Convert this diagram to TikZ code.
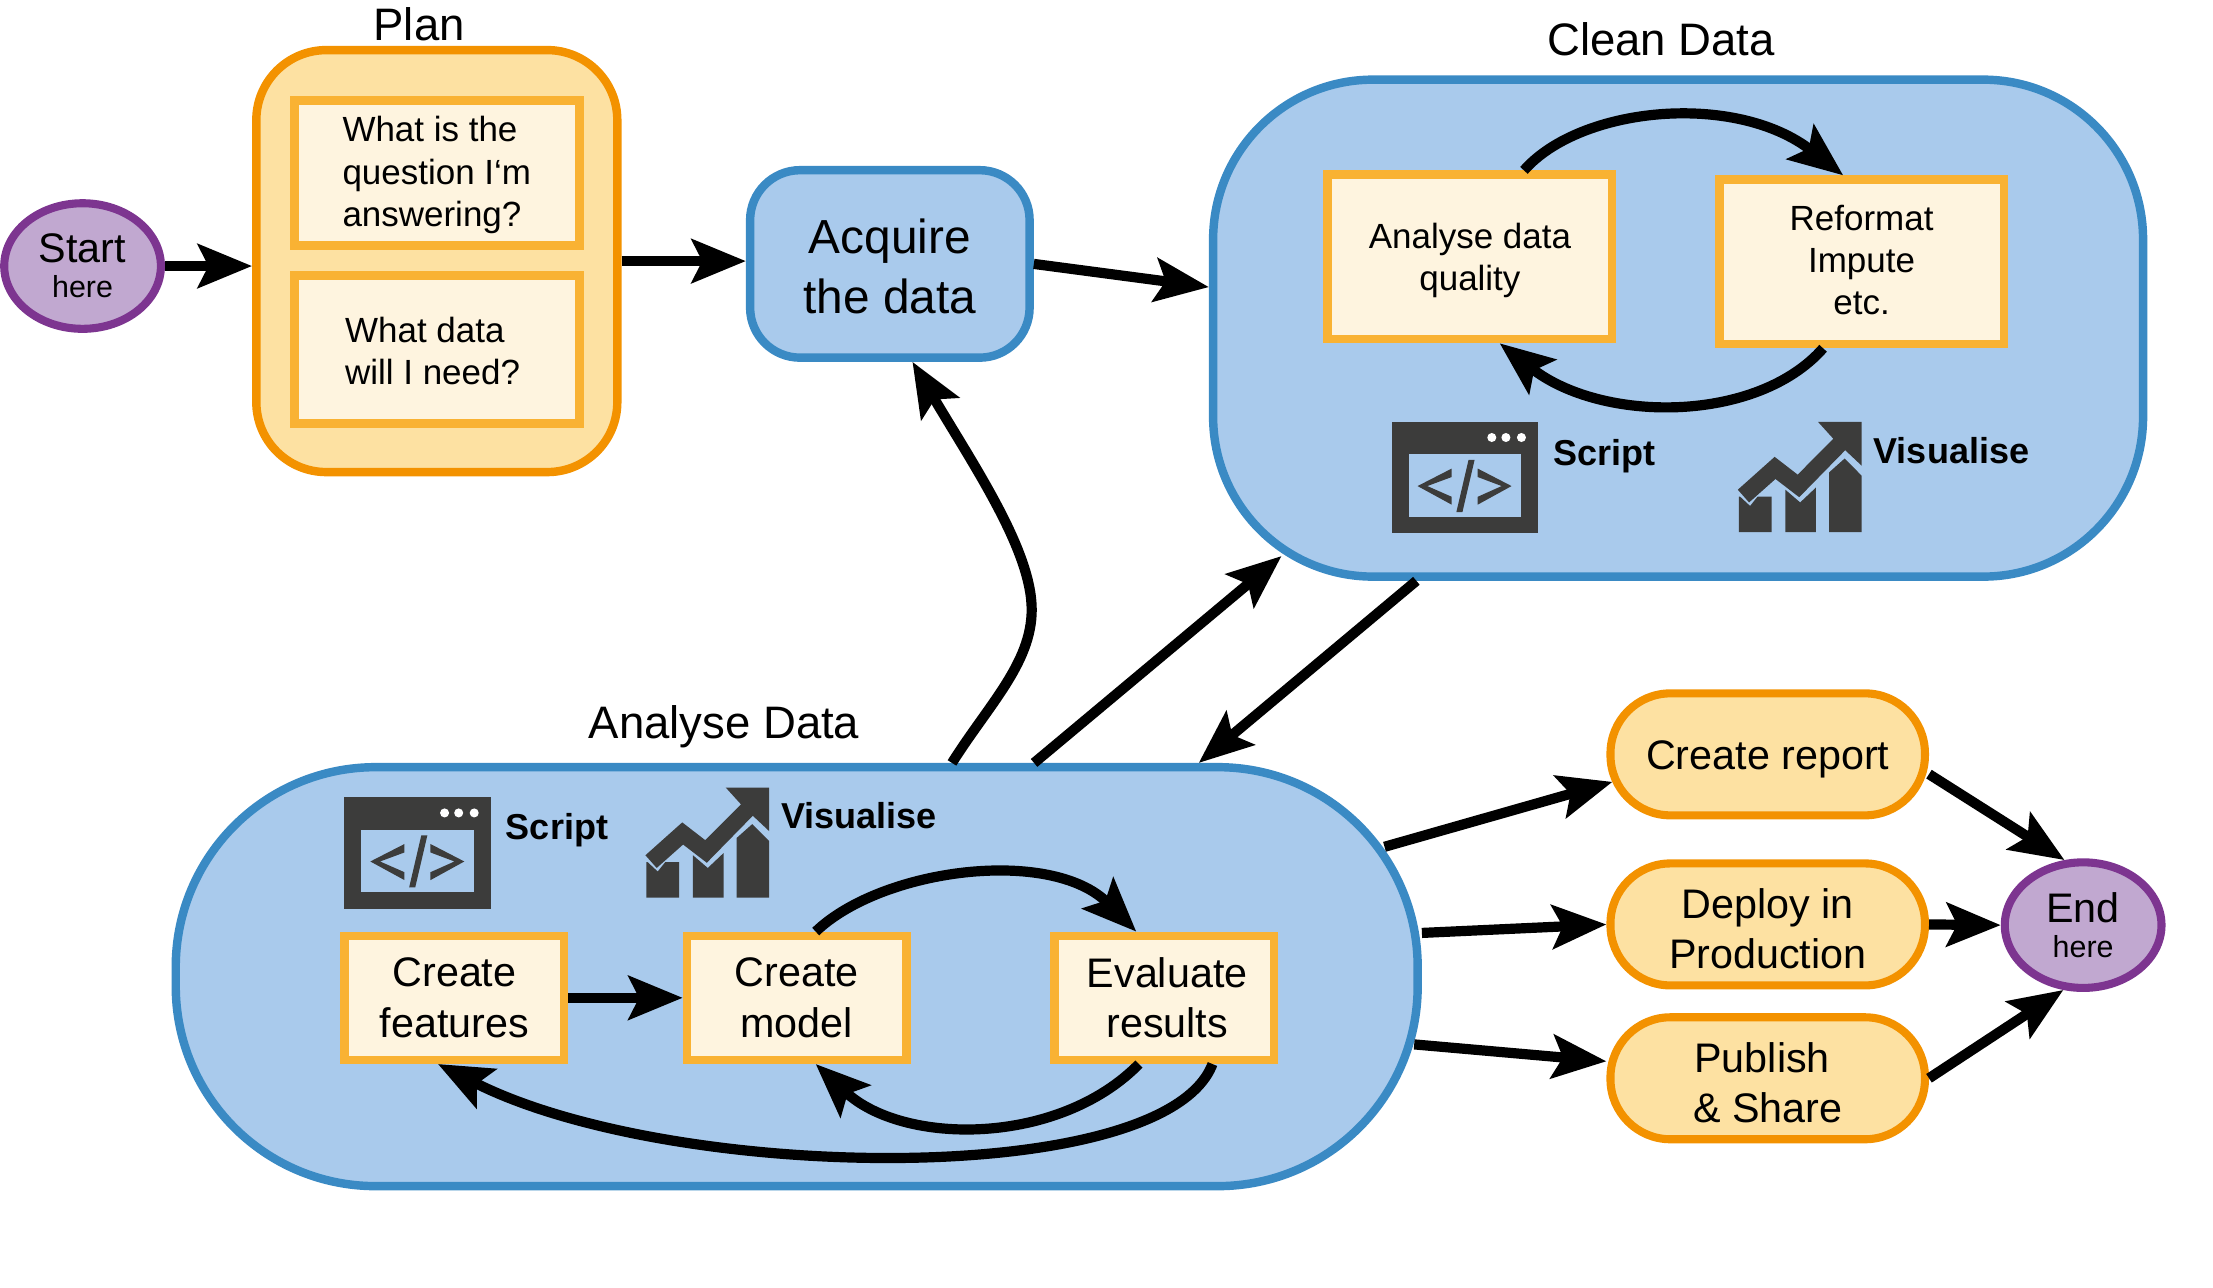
\documentclass[tikz,border=0pt]{standalone}
\usepackage{fontspec}
\setmainfont{Liberation Sans}
\usepackage{tikz}
\usetikzlibrary{arrows.meta,positioning,shapes.geometric}

\definecolor{bluefill}{HTML}{A9CAEC}
\definecolor{blueline}{HTML}{3A8AC4}
\definecolor{orangefill}{HTML}{FDE1A2}
\definecolor{orangeline}{HTML}{F39200}
\definecolor{innerfill}{HTML}{FEF4DF}
\definecolor{innerline}{HTML}{F9B233}
\definecolor{purplefill}{HTML}{C1A8D0}
\definecolor{purpleline}{HTML}{7D3590}
\definecolor{icongrey}{HTML}{3C3C3B}

\tikzset{
	flow/.style={line width=2.9pt,-{Stealth[length=15.4pt,width=12.4pt,inset=3pt]},black},
	title/.style={font=\fontsize{12.95}{15}\selectfont,inner sep=0pt},
	iconlabel/.style={font=\fontsize{10.25}{12}\selectfont\bfseries,inner sep=0pt,anchor=base west},
	terminal/.style={ellipse,draw=purpleline,fill=purplefill,line width=2.3pt,inner sep=0pt,align=center,font=\fontsize{11.75}{14}\selectfont,minimum width=15.67mm,minimum height=12.56mm},
	bigblue/.style={draw=blueline,fill=bluefill,line width=2.4pt,inner sep=0pt},
	inner/.style={draw=innerline,fill=innerfill,line width=2.4pt,inner sep=0pt},
	smalltext/.style={inner,align=center,font=\fontsize{9.95}{12}\selectfont,minimum width=28.45mm,minimum height=16.45mm},
	modeltext/.style={inner,align=center,font=\fontsize{11.75}{14.3}\selectfont,minimum width=21.95mm,minimum height=12.4mm},
	plantext/.style={inner,align=left,font=\fontsize{9.95}{12}\selectfont,minimum width=28.5mm},
	output/.style={draw=orangeline,fill=orangefill,line width=2.3pt,rounded corners=6mm,inner sep=0pt,align=center,font=\fontsize{11.75}{14.3}\selectfont,minimum width=31.45mm,minimum height=12.2mm}
}

\newcommand{\scripticon}[2]{
	\begin{scope}[shift={(#1,#2)}]
		\fill[icongrey] (0,0) rectangle (104,79);
		\fill[bluefill] (12,23) rectangle (92,67);
		\fill[white] (71,11) circle (3.2) (81,11) circle (3.2) (92,11) circle (3.2);
		\fill[icongrey] (18.4,45.4) -- (42.6,33) -- (42.6,39) -- (25.3,45.4) -- (42.6,53) -- (42.6,58.6) -- cycle;
		\fill[icongrey] (85,45.4) -- (61,33) -- (61,39) -- (78,45.4) -- (61,53) -- (61,58.6) -- cycle;
		\fill[icongrey] (54.5,26.9) -- (58.8,26.9) -- (50.2,63.8) -- (45.9,63.8) -- cycle;
	\end{scope}
}
\newcommand{\charticon}[2]{
	\begin{scope}[shift={(#1,#2)}]
		\fill[icongrey] (0,52.8) -- (0.8,52.8) -- (8,59.5) -- (13.4,52.8) -- (23.2,52.8) -- (23.2,78) -- (0,78) -- cycle;
		\fill[icongrey] (33,48) -- (43.5,57) -- (54.7,46.4) -- (54.7,78) -- (33,78) -- cycle;
		\fill[icongrey] (64,35.7) -- (75,25.9) -- (87,38) -- (87,78) -- (64,78) -- cycle;
		\fill[icongrey] (-0.7,48) -- (25.4,24.7) -- (41.7,37.3) -- (67,11.9) -- (56.2,0) -- (87,0) -- (87,30.9) -- (75.4,20) -- (42.8,53.3) -- (26,40.4) -- (7.3,57) -- cycle;
	\end{scope}
}
\newcommand{\toprule}[1]{\rule{0pt}{#1}}
\newcommand{\siderule}[1]{\rule{#1}{0pt}}

\begin{document}
\begin{tikzpicture}[x=0.14114mm,y=-0.14114mm]
	\useasboundingbox (0,0) rectangle (1568,912.6);

	\node[bigblue,rounded corners=16mm,minimum width=93mm,minimum height=49.7mm] (clean) at (1189,232.5) {};
	\node[bigblue,rounded corners=20mm,minimum width=124.2mm,minimum height=41.9mm] (analyse) at (564.5,692) {};
	\node[draw=orangeline,fill=orangefill,line width=2.4pt,rounded corners=7mm,inner sep=0pt,minimum width=36.1mm,minimum height=42.2mm] (plan) at (309.5,185) {};

	\node[title] (plantitle) at (297,17) {Plan};
	\node[title] (cleantitle) at (1177,28) {Clean Data};
	\node[title] (analysetitle) at (513,515) {Analyse Data};

	\node[terminal] (start) at (58.5,188.5) {Start\\[-4pt]\fontsize{8.65}{10}\selectfont here};
	\node[terminal] (finish) at (1476,655.5) {End\\[-4pt]\fontsize{8.65}{10}\selectfont here};

	\node[plantext,minimum height=14.5mm] (question) at (309.5,122.5) {\toprule{8.4pt}What is the\\question I‘m\\answering?};
	\node[plantext,minimum height=14.8mm] (need) at (309.5,247.5) {\toprule{8.4pt}What data\\will I need?\siderule{2.4pt}};

	\node[draw=blueline,fill=bluefill,line width=2.4pt,rounded corners=5mm,inner sep=0pt,align=center,font=\fontsize{13.6}{17}\selectfont,minimum width=27.95mm,minimum height=18.75mm] (acquire) at (630.5,187) {\toprule{11.1pt}Acquire\\the data};

	\node[smalltext] (quality) at (1041.5,182) {\toprule{9.3pt}Analyse data\\quality};
	\node[smalltext] (reformat) at (1319,185.5) {Reformat\\Impute\\etc.\rule[-1.2pt]{0pt}{0pt}};

	\node[modeltext] (features) at (322,707) {Create\\features};
	\node[modeltext] (model) at (564.5,707) {Create\\model};
	\node[modeltext] (evaluate) at (825,707) {\siderule{1.6pt}Evaluate\\\siderule{1.6pt}results};

	\node[output] (report) at (1252.5,534.5) {\toprule{11.1pt}Create report};
	\node[output] (deploy) at (1252.5,655) {\toprule{11pt}Deploy in\\Production};
	\node[output] (publish) at (1252.5,764) {\toprule{11pt}Publish\siderule{3.2pt}\\\& Share};

	\scripticon{986}{299}
	\charticon{1232}{299}
	\scripticon{244}{565}
	\charticon{458}{558}
	\node[iconlabel] (cleanscript) at (1100,329.5) {Script};
	\node[iconlabel] (cleanvisual) at (1327,328.5) {Visualise};
	\node[iconlabel] (analysescript) at (358,594.5) {Script};
	\node[iconlabel] (analysevisual) at (553,587) {Visualise};

	\coordinate (cleancorner) at (908,394);
	\coordinate (analysecorner) at (981,600);
	\coordinate (analyselow) at (1002,740);
	\coordinate (reportin) at (1142.5,554);

	\draw [flow] (start.east) to (plan.west |- start.east);
	\draw [flow] (plan.east) to (acquire.west |- plan.east);
	\draw [flow] (acquire.east) to (clean.175);
	\draw [flow] (analyse.54) .. controls (700,500) and (731,470) .. (731,432) .. controls (731,390) and (690,330) .. (acquire.283);
	\draw [flow] (analyse.42) to (cleancorner);
	\draw [flow] (clean.224) to (analyse.28);
	\draw [flow] (analysecorner) to (reportin);
	\draw [flow] (analyse.4) to (deploy.west);
	\draw [flow] (analyselow) to (publish.174);
	\draw [flow] (report.353) to (finish.106);
	\draw [flow] (deploy.east) to (finish.west);
	\draw [flow] (publish.east) to (finish.253);
	\draw [flow] (features.east) to (model.west);

	\draw [flow] (quality.58) .. controls (1120,75) and (1230,65) .. (reformat.102);
	\draw [flow] (reformat.246) .. controls (1245,300) and (1135,300) .. (quality.289);
	\draw [flow] (model.74) .. controls (625,615) and (745,600) .. (evaluate.113);
	\draw [flow] (evaluate.249) .. controls (750,812) and (640,812) .. (model.286);
	\draw [flow] (evaluate.306) .. controls (825,843) and (476,838) .. (features.256);
\end{tikzpicture}
\end{document}
